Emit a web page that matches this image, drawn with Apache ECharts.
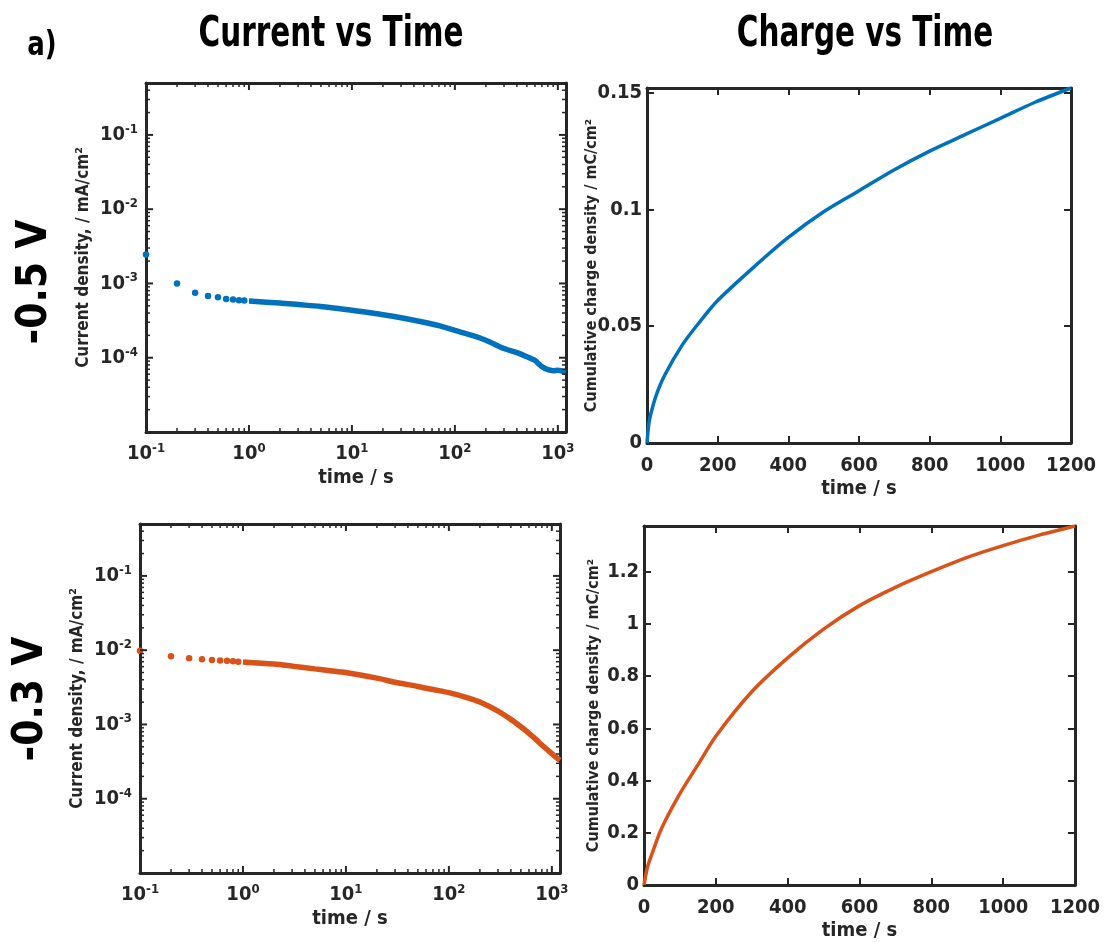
<!DOCTYPE html>
<html>
<head>
<meta charset="utf-8">
<script src="https://cdn.jsdelivr.net/npm/echarts@6/dist/echarts.min.js"></script>
<style>
  html, body { margin: 0; padding: 0; background: #fff; }
  #chart { width: 1110px; height: 942px; }
</style>
</head>
<body>
<div id="chart"></div>
<script>
// -0.5 V : current density (log-log), first samples shown as single dots
const tDotsA = [0.1, 0.2, 0.3, 0.4, 0.5, 0.6, 0.7, 0.8, 0.9];
const jDotsA = [2.45e-3, 1.0e-3, 7.5e-4, 6.8e-4, 6.5e-4, 6.2e-4, 6.1e-4, 5.95e-4, 5.9e-4];
const tLineA = [1, 2, 3, 5, 7, 10, 20, 30, 50, 70, 100, 150, 200, 300, 400, 500, 600, 650, 700, 800, 900, 1000, 1100, 1200];
const jLineA = [5.8e-4, 5.45e-4, 5.2e-4, 4.9e-4, 4.65e-4, 4.35e-4, 3.8e-4, 3.45e-4, 3.0e-4, 2.7e-4, 2.33e-4, 1.98e-4, 1.72e-4, 1.33e-4, 1.17e-4, 1.03e-4, 9.2e-5, 8.3e-5, 7.6e-5, 6.9e-5, 6.7e-5, 6.8e-5, 6.6e-5, 6.5e-5];

// -0.5 V : cumulative charge
const tChargeA = [0, 5, 10, 25, 50, 100, 150, 200, 300, 400, 500, 600, 700, 800, 900, 1000, 1100, 1200];
const qChargeA = [0, 0.008, 0.012, 0.02, 0.029, 0.042, 0.052, 0.061, 0.075, 0.088, 0.099, 0.108, 0.117, 0.125, 0.132, 0.139, 0.146, 0.152];

// -0.3 V : current density
const tDotsB = [0.1, 0.2, 0.3, 0.4, 0.5, 0.6, 0.7, 0.8, 0.9];
const jDotsB = [9.8e-3, 8.3e-3, 7.8e-3, 7.55e-3, 7.4e-3, 7.25e-3, 7.2e-3, 7.1e-3, 7.0e-3];
const tLineB = [1, 2, 3, 5, 7, 10, 20, 30, 50, 70, 100, 150, 200, 300, 400, 500, 600, 700, 800, 900, 1000, 1100, 1200];
const jLineB = [6.95e-3, 6.5e-3, 6.1e-3, 5.6e-3, 5.3e-3, 5.0e-3, 4.2e-3, 3.7e-3, 3.25e-3, 2.95e-3, 2.68e-3, 2.3e-3, 2.0e-3, 1.51e-3, 1.17e-3, 9.3e-4, 7.6e-4, 6.3e-4, 5.3e-4, 4.6e-4, 4.05e-4, 3.6e-4, 3.3e-4];

// -0.3 V : cumulative charge
const tChargeB = [0, 10, 25, 50, 100, 150, 200, 300, 400, 500, 600, 700, 800, 900, 1000, 1100, 1200];
const qChargeB = [0, 0.07, 0.13, 0.22, 0.35, 0.46, 0.57, 0.74, 0.87, 0.98, 1.07, 1.14, 1.2, 1.255, 1.3, 1.34, 1.375];

// tick values
const logTimeMajor = [0.1, 1, 10, 100, 1000];
const logTimeMinor = [0.2, 0.3, 0.4, 0.5, 0.6, 0.7, 0.8, 0.9, 2, 3, 4, 5, 6, 7, 8, 9, 20, 30, 40, 50, 60, 70, 80, 90, 200, 300, 400, 500, 600, 700, 800, 900];
const logCurMajor = [1e-5, 1e-4, 1e-3, 1e-2, 1e-1];
const logCurLabels = [1e-4, 1e-3, 1e-2, 1e-1];
const logCurMinor = [2e-5, 3e-5, 4e-5, 5e-5, 6e-5, 7e-5, 8e-5, 9e-5, 2e-4, 3e-4, 4e-4, 5e-4, 6e-4, 7e-4, 8e-4, 9e-4, 2e-3, 3e-3, 4e-3, 5e-3, 6e-3, 7e-3, 8e-3, 9e-3, 2e-2, 3e-2, 4e-2, 5e-2, 6e-2, 7e-2, 8e-2, 9e-2, 0.2, 0.3, 0.4, 0.5];
const linTimeTicks = [0, 200, 400, 600, 800, 1000, 1200];
const chargeTicksA = [0, 0.05, 0.1, 0.15];
const chargeTicksB = [0, 0.2, 0.4, 0.6, 0.8, 1, 1.2];

const FONT = '"Liberation Sans Narrow", "DejaVu Sans Condensed", "Roboto", sans-serif';
const INK = '#262626';
const BLUE = '#0072BD';
const ORANGE = '#D95319';
const MAJOR_LEN = 7, MINOR_LEN = 4;

const RICH = {
    b: { fontSize: 20, fontWeight: 'bold', fontFamily: FONT, color: INK, lineHeight: 24 },
    s: { fontSize: 13, fontWeight: 'bold', fontFamily: FONT, color: INK, verticalAlign: 'top' }
};
const powFmt = v => '{b|10}{s|' + Math.round(Math.log10(v)) + '}';
const numFmt = v => String(v);

const xAxes = [];
const yAxes = [];

// one boxed pair of sides (bottom/top or left/right).
// linear axes get inward ticks from an extra value axis,
// log boxes get theirs added after the first render (see addLogTicks)
function axisSet(list, gridIndex, dim, spec) {
    const isLog = spec.type === 'log';
    const sides = dim === 'x' ? ['bottom', 'top'] : ['left', 'right'];
    const first = list.length;
    sides.forEach((pos, k) => {
        const main = {
            gridIndex: gridIndex, type: spec.type, min: spec.min, max: spec.max,
            position: pos, splitLine: { show: false }, silent: true,
            axisLine: { show: true, onZero: false, lineStyle: { color: INK, width: 3 } },
            axisTick: { show: false },
            axisLabel: k === 0 ? {
                show: true, customValues: spec.labels, formatter: spec.fmt, margin: spec.margin,
                color: INK, fontFamily: FONT, fontWeight: 'bold', fontSize: 20, rich: RICH
            } : { show: false },
            name: k === 0 ? spec.name : '',
            nameLocation: 'middle',
            nameGap: spec.nameGap,
            nameMoveOverlap: false,
            nameTextStyle: { color: INK, fontFamily: FONT, fontWeight: 'bold', fontSize: spec.nameSize }
        };
        if (isLog) main.logBase = 10;
        list.push(main);
        if (!isLog) {
            list.push({
                gridIndex: gridIndex, type: 'value', min: spec.min, max: spec.max,
                position: pos, silent: true, splitLine: { show: false },
                axisLine: { show: true, onZero: false, lineStyle: { color: INK, width: 1, opacity: 0 } },
                axisTick: { show: true, inside: true, length: MAJOR_LEN, lineStyle: { color: INK, width: 2, opacity: 1 }, customValues: spec.major },
                axisLabel: { show: false }
            });
        }
    });
    return first;
}

const grids = [
    { left: 146, top: 83, width: 420, height: 349 },
    { left: 647, top: 88, width: 424, height: 355 },
    { left: 140, top: 524, width: 420, height: 349 },
    { left: 644, top: 526, width: 431, height: 361 }
];

const logX = { type: 'log', min: 0.1, max: 1200, major: logTimeMajor, minor: logTimeMinor, labels: logTimeMajor, fmt: powFmt, margin: 10, name: 'time / s', nameGap: 36, nameSize: 20 };
const logY = { type: 'log', min: 1e-5, max: 0.5, major: logCurMajor, minor: logCurMinor, labels: logCurLabels, fmt: powFmt, margin: 8, name: 'Current density, / mA/cm²', nameGap: 54, nameSize: 17 };
const linX = { type: 'value', min: 0, max: 1200, major: linTimeTicks, labels: linTimeTicks, fmt: numFmt, margin: 13, name: 'time / s', nameGap: 36, nameSize: 20 };

const x0 = axisSet(xAxes, 0, 'x', logX);
const y0 = axisSet(yAxes, 0, 'y', logY);
const x1 = axisSet(xAxes, 1, 'x', linX);
const y1 = axisSet(yAxes, 1, 'y', { type: 'value', min: 0, max: 0.152, major: chargeTicksA, labels: chargeTicksA, fmt: numFmt, margin: 5, name: 'Cumulative charge density / mC/cm²', nameGap: 47, nameSize: 16 });
const x2 = axisSet(xAxes, 2, 'x', logX);
const y2 = axisSet(yAxes, 2, 'y', logY);
const x3 = axisSet(xAxes, 3, 'x', linX);
const y3 = axisSet(yAxes, 3, 'y', { type: 'value', min: 0, max: 1.375, major: chargeTicksB, labels: chargeTicksB, fmt: numFmt, margin: 5, name: 'Cumulative charge density / mC/cm²', nameGap: 42, nameSize: 16 });

const pairs = (xs, ys) => xs.map((x, i) => [x, ys[i]]);

const headFont = 'bold 42px ' + FONT;
const centered = { align: 'center', verticalAlign: 'middle', textAlign: 'center', textVerticalAlign: 'middle' };

const option = {
    animation: false,
    backgroundColor: '#fff',
    grid: grids,
    xAxis: xAxes,
    yAxis: yAxes,
    graphic: [
        { type: 'text', x: 42, y: 46, scaleX: 0.85, style: Object.assign({ text: 'a)', font: 'bold 34px ' + FONT, fill: '#000' }, centered) },
        { type: 'text', x: 331, y: 35, scaleX: 0.78, style: Object.assign({ text: 'Current vs Time', font: headFont, fill: '#000' }, centered) },
        { type: 'text', x: 865, y: 35, scaleX: 0.78, style: Object.assign({ text: 'Charge vs Time', font: headFont, fill: '#000' }, centered) },
        { type: 'text', x: 35, y: 282, rotation: Math.PI / 2, style: Object.assign({ text: '-0.5 V', font: headFont, fill: '#000' }, centered) },
        { type: 'text', x: 31, y: 699, rotation: Math.PI / 2, style: Object.assign({ text: '-0.3 V', font: headFont, fill: '#000' }, centered) }
    ],
    series: [
        { type: 'scatter', xAxisIndex: x0, yAxisIndex: y0, data: pairs(tDotsA, jDotsA), symbolSize: 6.5, itemStyle: { color: BLUE, opacity: 1 } },
        { type: 'line', xAxisIndex: x0, yAxisIndex: y0, data: pairs(tLineA, jLineA), showSymbol: false, smooth: 0.3, lineStyle: { color: BLUE, width: 5.5 } },
        { type: 'line', xAxisIndex: x1, yAxisIndex: y1, data: pairs(tChargeA, qChargeA), showSymbol: false, smooth: 0.3, lineStyle: { color: BLUE, width: 3.5 } },
        { type: 'scatter', xAxisIndex: x2, yAxisIndex: y2, data: pairs(tDotsB, jDotsB), symbolSize: 6.5, itemStyle: { color: ORANGE, opacity: 1 } },
        { type: 'line', xAxisIndex: x2, yAxisIndex: y2, data: pairs(tLineB, jLineB), showSymbol: false, smooth: 0.3, lineStyle: { color: ORANGE, width: 5.5 } },
        { type: 'line', xAxisIndex: x3, yAxisIndex: y3, data: pairs(tChargeB, qChargeB), showSymbol: false, smooth: 0.3, lineStyle: { color: ORANGE, width: 3.5 } }
    ]
};

const chart = echarts.init(document.getElementById('chart'));
chart.setOption(option);

// inward tick marks on all four sides of a log-log box, placed through the axes
function addLogTicks(xi, yi, xs, ys) {
    const zr = chart.getZr();
    const finder = { xAxisIndex: xi, yAxisIndex: yi };
    const px = p => chart.convertToPixel(finder, p);
    const mark = (x1, y1, x2, y2, major) => zr.add(new echarts.graphic.Line({
        shape: { x1: x1, y1: y1, x2: x2, y2: y2 },
        style: { stroke: INK, lineWidth: major ? 2 : 1.5 },
        silent: true, z: 10
    }));
    [[xs.major, true], [xs.minor, false]].forEach(([vals, major]) => vals.forEach(t => {
        const len = major ? MAJOR_LEN : MINOR_LEN;
        const b = px([t, ys.min]), tp = px([t, ys.max]);
        mark(b[0], b[1], b[0], b[1] - len, major);
        mark(tp[0], tp[1], tp[0], tp[1] + len, major);
    }));
    [[ys.major, true], [ys.minor, false]].forEach(([vals, major]) => vals.forEach(j => {
        const len = major ? MAJOR_LEN : MINOR_LEN;
        const l = px([xs.min, j]), r = px([xs.max, j]);
        mark(l[0], l[1], l[0] + len, l[1], major);
        mark(r[0], r[1], r[0] - len, r[1], major);
    }));
}

try {
    addLogTicks(x0, y0, logX, logY);
    addLogTicks(x2, y2, logX, logY);
} catch (e) {
    console.error(e);
}
</script>
</body>
</html>
